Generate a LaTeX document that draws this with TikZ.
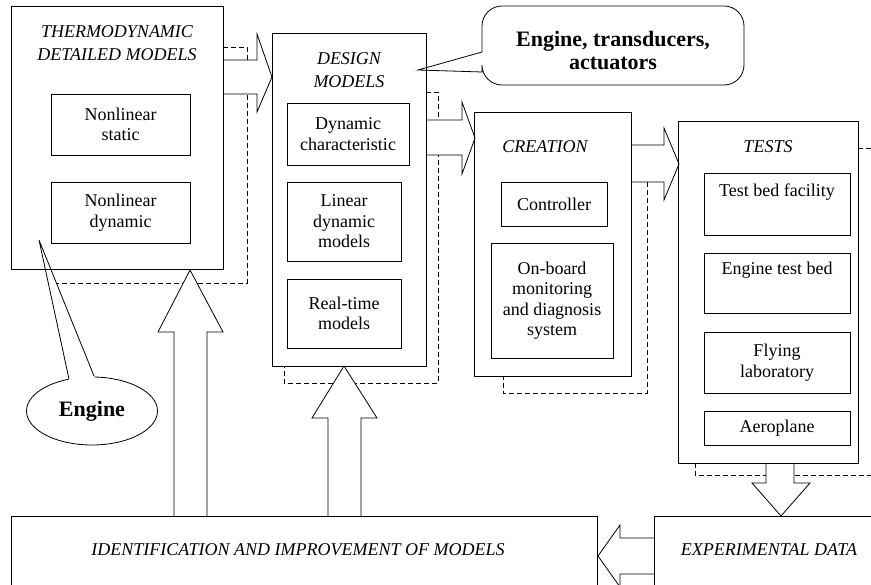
\documentclass[tikz,border=0pt]{standalone}
\usepackage{fontspec}
\setmainfont{Liberation Serif}
\usetikzlibrary{shapes.geometric}

\newcommand{\chuthuong}{\fontsize{18}{20.5}\selectfont}
\newcommand{\chutieude}{\fontsize{18}{22.5}\selectfont\itshape}
\newcommand{\chudam}{\fontsize{22}{23}\selectfont\bfseries}

\begin{document}
\begin{tikzpicture}[x=1pt, y=-1pt, line width=0.8pt,
    khung/.style={draw, inner sep=2pt, align=center, font=\chuthuong},
    tieude/.style={align=center, font=\chutieude},
    muiten/.style={draw, fill=white, line join=miter},
    netdut/.style={dash pattern=on 5pt off 3pt, line width=0.7pt},
    chunoi/.style={align=center, font=\chudam}]

    \useasboundingbox (0,0) rectangle (871,585);
    \clip (0,0) rectangle (871,585);

    % =================================================================
    % PHẦN 1: CÁC ĐƯỜNG NÉT ĐỨT (vẽ trước để mũi tên che lên)
    % =================================================================
    \draw[netdut] (223,47) -- (247,47) -- (247,283) -- (57,283);
    \draw[netdut] (426,92) -- (438,92) -- (438,383) -- (284,383) -- (284,366);
    \draw[netdut] (647,182) -- (647,393) -- (503,393) -- (503,376);
    \draw[netdut] (858,148) -- (871,148);
    \draw[netdut] (695,463) -- (695,475) -- (871,475);

    % =================================================================
    % PHẦN 2: CÁC MŨI TÊN KHỐI
    % =================================================================
    % Mũi tên sang phải
    \filldraw[muiten] (223,60) -- (257,60) -- (257,34) -- (272,77) -- (257,112) -- (257,94) -- (223,94);
    \filldraw[muiten] (426,120) -- (462,120) -- (462,102) -- (475,138) -- (462,174) -- (462,155) -- (426,155);
    \filldraw[muiten] (631,145) -- (664,145) -- (664,128) -- (679,164) -- (664,200) -- (664,182) -- (631,182);
    % Mũi tên xuống và sang trái
    \filldraw[muiten] (766,463) -- (766,483) -- (752,483) -- (781,516) -- (810,483) -- (794,483) -- (794,463);
    \filldraw[muiten] (654,538) -- (620,538) -- (620,525) -- (598,556) -- (620,587) -- (620,574) -- (654,574);
    % Mũi tên đi lên
    \filldraw[muiten] (174,516) -- (174,332) -- (158,332) -- (190,270) -- (223,332) -- (207,332) -- (207,516);
    \filldraw[muiten] (328,516) -- (328,418) -- (312,418) -- (344,366) -- (377,418) -- (361,418) -- (361,516);

    % =================================================================
    % PHẦN 3: HAI KHUNG CHÚ THÍCH
    % =================================================================
    \filldraw[fill=white] (418,70) -- (482,52) {[rounded corners=20] -- (482,6) -- (744,6) -- (744,85) -- (482,85)} -- (482,72) -- cycle;
    \node[chunoi] (ghichu) at (613,51) {Engine, transducers,\\actuators};

    \node[draw, ellipse, fill=white, minimum width=131, minimum height=68, font=\chudam] (engine) at (92,411) {Engine};
    \fill[white] (70,385) -- (39,240) -- (97.5,385) -- cycle;
    \draw (69,379) -- (39,240) -- (94,376);

    % =================================================================
    % PHẦN 4: CÁC KHỐI CHÍNH
    % =================================================================
    % Khối mô hình nhiệt động
    \node[khung, minimum width=212, minimum height=263] (thermo) at (117,137.5) {};
    \node[tieude] (thermo-t) at (117,43) {THERMODYNAMIC\\DETAILED MODELS};
    \node[khung, minimum width=139, minimum height=61] (nlstatic) at (120.5,124.5) {Nonlinear\\static};
    \node[khung, minimum width=139, minimum height=61] (nldyn) at (120.5,212.5) {Nonlinear\\dynamic};

    % Khối mô hình thiết kế
    \node[khung, minimum width=154, minimum height=333] (design) at (349,199.5) {};
    \node[tieude] (design-t) at (349,70) {DESIGN\\MODELS};
    \node[khung, minimum width=122, minimum height=62] (dynchar) at (348,134) {Dynamic\\characteristic};
    \node[khung, minimum width=114, minimum height=79] (lindyn) at (344,221.5) {Linear\\dynamic\\models};
    \node[khung, minimum width=114, minimum height=69] (realtime) at (344,313.5) {Real-time\\models};

    % Khối chế tạo
    \node[khung, minimum width=157, minimum height=264] (creation) at (552.5,244) {};
    \node[tieude] (creation-t) at (545,146.5) {CREATION};
    \node[khung, minimum width=106, minimum height=44] (controller) at (554,204) {Controller};
    \node[khung, minimum width=122, minimum height=115] (onboard) at (552,300.5) {On-board\\monitoring\\and diagnosis\\system};

    % Khối thử nghiệm
    \node[khung, minimum width=180, minimum height=342] (tests) at (768,292) {};
    \node[tieude] (tests-t) at (768,147) {TESTS};
    \node[khung, minimum width=146, text height=22, text depth=36] (testbed) at (777,204) {Test bed facility};
    \node[khung, minimum width=146, text height=20, text depth=36] (enginebed) at (777,283) {Engine test bed};
    \node[khung, minimum width=146, minimum height=61] (flying) at (777,362.5) {Flying\\laboratory};
    \node[khung, minimum width=146, minimum height=34] (aeroplane) at (777,428) {Aeroplane};

    % Hai khối phía dưới
    \node[khung, minimum width=586, minimum height=104] (ident) at (304,568) {};
    \node[tieude] (ident-t) at (298,550) {IDENTIFICATION AND IMPROVEMENT OF MODELS};
    \node[khung, minimum width=246, minimum height=104] (expdata) at (777,568) {};
    \node[tieude] (expdata-t) at (769,550) {EXPERIMENTAL DATA};

\end{tikzpicture}
\end{document}
